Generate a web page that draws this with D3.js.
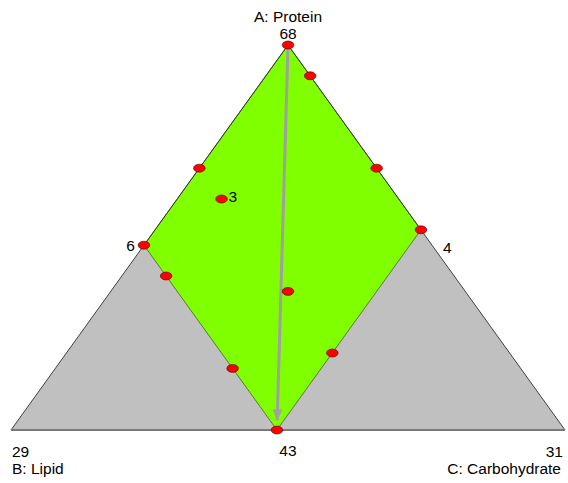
<!DOCTYPE html>
<html>
<head>
<meta charset="utf-8">
<script src="https://cdn.jsdelivr.net/npm/d3@7"></script>
<style>
  html, body { margin: 0; padding: 0; background: #fff; }
  svg { display: block; }
  text { font-family: Arial, "Liberation Sans", sans-serif; font-size: 15.5px; fill: #000; }
</style>
</head>
<body>
<svg id="chart" width="568" height="483"></svg>
<script>
(function() {

  // component names and the labels at the corners of the simplex
  var components = ['A: Protein', 'B: Lipid', 'C: Carbohydrate'];
  var vertexLabels = ['68', '29', '31'];

  // constraint region (fractions of A, B, C) - top, left, bottom, right
  var regionProtein = [1, 0.48, 0, 0.52];
  var regionLipid = [0, 0.52, 0.52, 0];
  var regionCarb = [0, 0, 0.48, 0.48];
  var regionLabels = ['', '6', '43', '4'];

  // design points
  var protein = [1, 0.92, 0.68, 0.68, 0.60, 0.48, 0.52, 0.40, 0.36, 0.16, 0.20, 0];
  var lipid = [0, 0, 0.32, 0, 0.32, 0.52, 0, 0.52, 0.32, 0.52, 0.32, 0.52];
  var carb = [0, 0.08, 0, 0.32, 0.08, 0, 0.48, 0.08, 0.32, 0.32, 0.48, 0.48];
  var replicates = [1, 1, 1, 1, 3, 1, 1, 1, 1, 1, 1, 1];

  // gradient arrow: from A vertex toward the bottom of the region
  var arrowFrom = [1, 0, 0];
  var arrowTo = [0.025, 0.507, 0.468];

  var xScale = d3.scaleLinear()
      .domain([0, 1])
      .range([11, 565]);

  var yScale = d3.scaleLinear()
      .domain([0, 1])
      .range([430, 45]);

  function project(a, b, c) {
    return [xScale(c + a / 2), yScale(a)];
  }

  var svg = d3.select('#chart');

  svg.append('defs').append('marker')
      .attr('id', 'arrow-head')
      .attr('markerUnits', 'userSpaceOnUse')
      .attr('viewBox', '0 -5 10 10')
      .attr('refX', 10)
      .attr('refY', 0)
      .attr('markerWidth', 11)
      .attr('markerHeight', 11)
      .attr('orient', 'auto')
    .append('path')
      .attr('d', 'M0,-4.5L10,0L0,4.5Z')
      .attr('fill', '#a0a0a0');

  var corners = [project(1, 0, 0), project(0, 1, 0), project(0, 0, 1)];

  svg.append('polygon')
      .attr('points', corners.map(function(p) { return p.join(','); }).join(' '))
      .attr('fill', '#c0c0c0')
      .attr('stroke', 'none');

  var region = regionProtein.map(function(a, i) {
    return project(a, regionLipid[i], regionCarb[i]);
  });

  svg.append('polygon')
      .attr('points', region.map(function(p) { return p.join(','); }).join(' '))
      .attr('fill', '#80ff00')
      .attr('stroke', '#3c4a30')
      .attr('stroke-width', 0.7);

  // triangle sides
  svg.append('path')
      .attr('d', d3.line()([corners[1], corners[0], corners[2]]))
      .attr('fill', 'none')
      .attr('stroke', '#303030')
      .attr('stroke-width', 0.9);

  svg.append('line')
      .attr('x1', corners[1][0]).attr('y1', corners[1][1])
      .attr('x2', corners[2][0]).attr('y2', corners[2][1])
      .attr('stroke', '#7a7a7a')
      .attr('stroke-width', 2);

  var p0 = project.apply(null, arrowFrom),
      p1 = project.apply(null, arrowTo);

  svg.append('line')
      .attr('x1', p0[0]).attr('y1', p0[1])
      .attr('x2', p1[0]).attr('y2', p1[1])
      .attr('stroke', '#a0a0a0')
      .attr('stroke-width', 3)
      .attr('marker-end', 'url(#arrow-head)');

  var points = protein.map(function(a, i) {
    var p = project(a, lipid[i], carb[i]);
    return { x: p[0], y: p[1], n: replicates[i] };
  });

  svg.selectAll('.design-point')
      .data(points)
    .enter().append('ellipse')
      .attr('class', 'design-point')
      .attr('cx', function(d) { return d.x; })
      .attr('cy', function(d) { return d.y; })
      .attr('rx', 5.8)
      .attr('ry', 4)
      .attr('fill', '#ff0000')
      .attr('stroke', '#500000')
      .attr('stroke-width', 0.6);

  svg.selectAll('.rep-label')
      .data(points.filter(function(d) { return d.n > 1; }))
    .enter().append('text')
      .attr('class', 'rep-label')
      .attr('x', function(d) { return d.x + 7; })
      .attr('y', function(d) { return d.y + 3; })
      .text(function(d) { return d.n; });

  // corner labels
  svg.append('text')
      .attr('x', corners[0][0]).attr('y', 22)
      .attr('text-anchor', 'middle')
      .text(components[0]);
  svg.append('text')
      .attr('x', corners[0][0]).attr('y', 39)
      .attr('text-anchor', 'middle')
      .text(vertexLabels[0]);

  svg.append('text')
      .attr('x', corners[1][0] + 1).attr('y', 457)
      .text(vertexLabels[1]);
  svg.append('text')
      .attr('x', corners[1][0] + 1).attr('y', 474)
      .text(components[1]);

  svg.append('text')
      .attr('x', corners[2][0] - 2).attr('y', 457)
      .attr('text-anchor', 'end')
      .text(vertexLabels[2]);
  svg.append('text')
      .attr('x', corners[2][0] - 4).attr('y', 474)
      .attr('text-anchor', 'end')
      .text(components[2]);

  // region vertex labels
  svg.append('text')
      .attr('x', region[1][0] - 9).attr('y', region[1][1] + 6)
      .attr('text-anchor', 'end')
      .text(regionLabels[1]);
  svg.append('text')
      .attr('x', region[2][0] + 11).attr('y', region[2][1] + 26)
      .attr('text-anchor', 'middle')
      .text(regionLabels[2]);
  svg.append('text')
      .attr('x', region[3][0] + 22).attr('y', region[3][1] + 23)
      .text(regionLabels[3]);

})()
</script>
</body>
</html>
